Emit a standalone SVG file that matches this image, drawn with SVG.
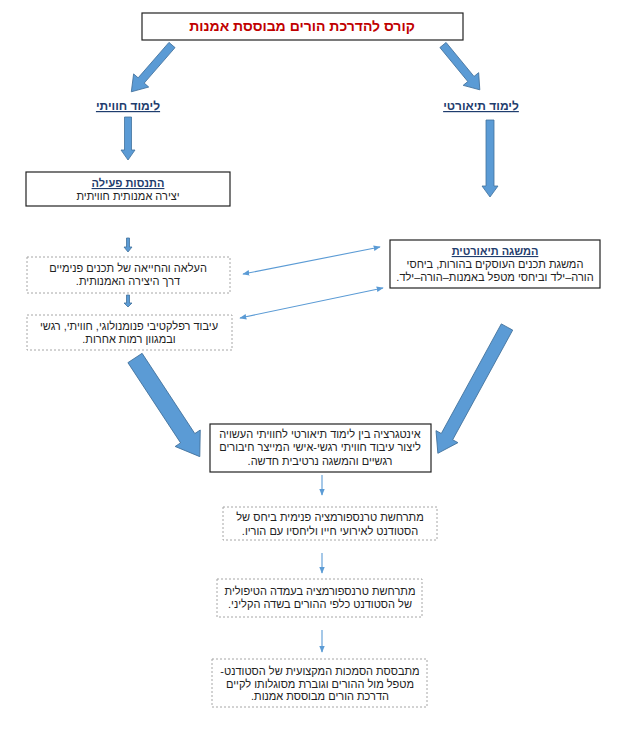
<svg xmlns="http://www.w3.org/2000/svg" width="620" height="736" viewBox="0 0 620 736">
<style>
text{font-family:"Liberation Sans",Arial,sans-serif;font-size:11px;fill:#222;text-anchor:middle;direction:rtl;unicode-bidi:embed}
.title{font-size:14px;font-weight:bold;fill:#c00000}
.head{font-weight:bold;fill:#1f3d6e;text-decoration:underline}
.lbl{font-size:12px}
.solid{fill:#fff;stroke:#222;stroke-width:1.2}
.dash{fill:#fff;stroke:#a6a6a6;stroke-width:1;stroke-dasharray:2,2}
.blk{fill:#5b9bd5;stroke:#41719c;stroke-width:0.8}
.thin{stroke:#5b9bd5;stroke-width:1.1;fill:none}
</style>
<defs>
<marker id="ah" viewBox="0 0 10 10" refX="9" refY="5" markerWidth="7" markerHeight="7" orient="auto-start-reverse" markerUnits="userSpaceOnUse">
<path d="M0,1 L10,5 L0,9 Z" fill="#5b9bd5"/>
</marker>
</defs>
<rect width="620" height="736" fill="#fff"/>

<g id="connectors">
<polygon class="blk" transform="translate(172,45) rotate(131)" points="0,-4 47,-4 47,-10 62,0 47,10 47,4 0,4"/>
<polygon class="blk" transform="translate(443,45) rotate(50.6)" points="0,-4 44,-4 44,-10 58,0 44,10 44,4 0,4"/>
<polygon class="blk" transform="translate(128,117) rotate(90)" points="0,-3.5 33,-3.5 33,-7 43,0 33,7 33,3.5 0,3.5"/>
<polygon class="blk" transform="translate(490,120) rotate(90)" points="0,-4 66,-4 66,-8 77,0 66,8 66,4 0,4"/>
<polygon class="blk" transform="translate(128,238) rotate(90)" points="0,-1.5 9,-1.5 9,-4 14,0 9,4 9,1.5 0,1.5"/>
<polygon class="blk" transform="translate(128,295) rotate(90)" points="0,-1.5 8,-1.5 8,-4 12,0 8,4 8,1.5 0,1.5"/>
<polygon class="blk" transform="translate(135,358) rotate(56.7)" points="0,-8.5 96,-8.5 96,-15 118,0 96,15 96,8.5 0,8.5"/>
<polygon class="blk" transform="translate(507,327) rotate(118.7)" points="0,-6.5 125,-6.5 125,-12.5 144,0 125,12.5 125,6.5 0,6.5"/>
<line class="thin" x1="243" y1="274" x2="380" y2="247" marker-start="url(#ah)" marker-end="url(#ah)"/>
<line class="thin" x1="240" y1="318" x2="383" y2="288" marker-start="url(#ah)" marker-end="url(#ah)"/>
<line class="thin" x1="322" y1="475" x2="322" y2="495" marker-end="url(#ah)"/>
<line class="thin" x1="322" y1="553" x2="322" y2="573" marker-end="url(#ah)"/>
<line class="thin" x1="322" y1="630" x2="322" y2="652" marker-end="url(#ah)"/>
</g>

<g id="n-course">
<rect class="solid" x="142" y="13" width="321" height="27"/>
<text class="title" x="302" y="31">קורס להדרכת הורים מבוססת אמנות</text>
</g>

<g id="n-exp-label">
<text class="head lbl" x="128" y="110">לימוד חוויתי</text>
</g>

<g id="n-theo-label">
<text class="head lbl" x="481" y="110">לימוד תיאורטי</text>
</g>

<g id="n-active">
<rect class="solid" x="26" y="172" width="204" height="34"/>
<text class="head" x="128" y="187">התנסות פעילה</text>
<text x="128" y="200">יצירה אמנותית חוויתית</text>
</g>

<g id="n-raise">
<rect class="dash" x="27" y="257" width="203" height="36"/>
<text x="128" y="272">העלאה והחייאה של תכנים פנימיים</text>
<text x="128" y="285">דרך היצירה האמנותית.</text>
</g>

<g id="n-reflect">
<rect class="dash" x="27" y="315" width="205" height="35"/>
<text x="129" y="330">עיבוד רפלקטיבי פנומנולוגי, חוויתי, רגשי</text>
<text x="129" y="343">ובמגוון רמות אחרות.</text>
</g>

<g id="n-concept">
<rect class="solid" x="390" y="240" width="210" height="48"/>
<text class="head" x="495" y="255">המשגה תיאורטית</text>
<text x="495" y="268">המשגת תכנים העוסקים בהורות, ביחסי</text>
<text x="495" y="281">הורה–ילד וביחסי מטפל באמנות–הורה–ילד.</text>
</g>

<g id="n-integration">
<rect class="solid" x="210" y="424" width="221" height="48"/>
<text x="320" y="438">אינטגרציה בין לימוד תיאורטי לחוויתי העשויה</text>
<text x="320" y="451">ליצור עיבוד חוויתי רגשי-אישי המייצר חיבורים</text>
<text x="320" y="465">רגשיים והמשגה נרטיבית חדשה.</text>
</g>

<g id="n-inner">
<rect class="dash" x="223" y="507" width="214" height="33"/>
<text x="330" y="521">מתרחשת טרנספורמציה פנימית ביחס של</text>
<text x="330" y="535">הסטודנט לאירועי חייו וליחסיו עם הוריו.</text>
</g>

<g id="n-stance">
<rect class="dash" x="217" y="579" width="205" height="38"/>
<text x="320" y="595">מתרחשת טרנספורמציה בעמדה הטיפולית</text>
<text x="320" y="608">של הסטודנט כלפי ההורים בשדה הקליני.</text>
</g>

<g id="n-authority">
<rect class="dash" x="212" y="659" width="215" height="48"/>
<text x="320" y="675">מתבססת הסמכות המקצועית של הסטודנט-</text>
<text x="320" y="688">מטפל מול ההורים וגוברת מסוגלותו לקיים</text>
<text x="320" y="700">הדרכת הורים מבוססת אמנות.</text>
</g>
</svg>
